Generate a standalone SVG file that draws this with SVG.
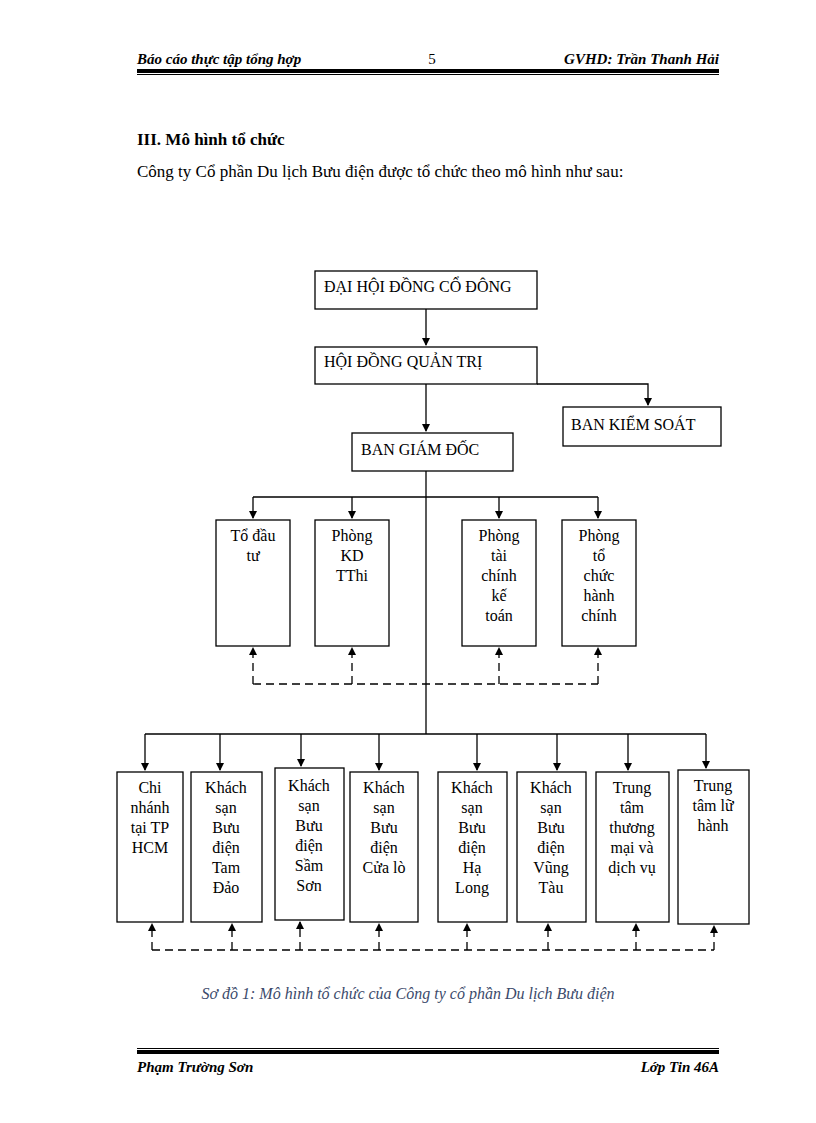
<svg xmlns="http://www.w3.org/2000/svg" width="816" height="1123" viewBox="0 0 816 1123">
<style>
text{font-family:"Liberation Serif",serif;fill:#000}
.hd{font-size:15px;font-style:italic;font-weight:bold}
.b{fill:#fff;stroke:#000;stroke-width:1.3}
.t{font-size:16px;text-anchor:middle}
.n{font-size:16px}
.l{fill:none;stroke:#000;stroke-width:1.3}
.d{fill:none;stroke:#000;stroke-width:1.3;stroke-dasharray:8,5}
</style>
<defs><marker id="a" markerWidth="8" markerHeight="8" refX="7" refY="4" orient="auto" markerUnits="userSpaceOnUse"><path d="M0,0L8,4L0,8z"/></marker></defs>
<rect width="816" height="1123" fill="#fff"/>
<text class="hd" x="137" y="64">Báo cáo thực tập tổng hợp</text>
<text x="432" y="64" style="font-size:15px;text-anchor:middle">5</text>
<text class="hd" x="719" y="64" text-anchor="end">GVHD: Trần Thanh Hải</text>
<rect x="137" y="69" width="582" height="4" fill="#000"/><rect x="137" y="74" width="582" height="1" fill="#000"/>
<text x="137" y="145" style="font-size:17px;font-weight:bold">III.  Mô hình tổ chức</text>
<text x="137" y="177" style="font-size:17px">Công ty Cổ phần Du lịch Bưu điện được tổ chức theo mô hình như sau:</text>
<g id="connectors">
<path class="l" d="M426,309V345" marker-end="url(#a)"/>
<path class="l" d="M426,384V431" marker-end="url(#a)"/>
<path class="l" d="M537,384H648V405" marker-end="url(#a)"/>
<path class="l" d="M426,471V734"/>
<path class="l" d="M253,497H598"/>
<path class="l" d="M253,497V518" marker-end="url(#a)"/><path class="l" d="M352,497V518" marker-end="url(#a)"/><path class="l" d="M499,497V518" marker-end="url(#a)"/><path class="l" d="M598,497V518" marker-end="url(#a)"/>
<path class="l" d="M145,734H706"/>
<path class="l" d="M145,734V770" marker-end="url(#a)"/><path class="l" d="M220,734V770" marker-end="url(#a)"/><path class="l" d="M301,734V766" marker-end="url(#a)"/><path class="l" d="M379,734V770" marker-end="url(#a)"/><path class="l" d="M477,734V770" marker-end="url(#a)"/><path class="l" d="M557,734V770" marker-end="url(#a)"/><path class="l" d="M628,734V770" marker-end="url(#a)"/><path class="l" d="M706,734V768" marker-end="url(#a)"/>
<path class="d" d="M253,684H598"/>
<path class="d" d="M253,684V648" marker-end="url(#a)"/><path class="d" d="M352,684V648" marker-end="url(#a)"/><path class="d" d="M499,684V648" marker-end="url(#a)"/><path class="d" d="M598,684V648" marker-end="url(#a)"/>
<path class="d" d="M152,950H714"/>
<path class="d" d="M152,950V924" marker-end="url(#a)"/><path class="d" d="M232,950V924" marker-end="url(#a)"/><path class="d" d="M300,950V922" marker-end="url(#a)"/><path class="d" d="M379,950V924" marker-end="url(#a)"/><path class="d" d="M467,950V924" marker-end="url(#a)"/><path class="d" d="M548,950V924" marker-end="url(#a)"/><path class="d" d="M636,950V924" marker-end="url(#a)"/><path class="d" d="M714,950V926" marker-end="url(#a)"/>
</g>
<g id="dhcd"><rect class="b" x="315" y="271" width="222" height="38"/><text class="n" x="324" y="292">ĐẠI HỘI ĐỒNG CỔ ĐÔNG</text></g>
<g id="hdqt"><rect class="b" x="315" y="347" width="222" height="37"/><text class="n" x="324" y="367">HỘI ĐỒNG QUẢN TRỊ</text></g>
<g id="bks"><rect class="b" x="563" y="407" width="158" height="39"/><text class="n" x="571" y="430">BAN KIỂM SOÁT</text></g>
<g id="bgd"><rect class="b" x="352" y="433" width="161" height="38"/><text class="n" x="361" y="455">BAN GIÁM ĐỐC</text></g>
<g id="todautu"><rect class="b" x="216" y="520" width="74" height="126"/><text class="t" x="253" y="541">Tổ đầu<tspan x="253" dy="20">tư</tspan></text></g>
<g id="kd"><rect class="b" x="315" y="520" width="74" height="126"/><text class="t" x="352" y="541">Phòng<tspan x="352" dy="20">KD</tspan><tspan x="352" dy="20">TThi</tspan></text></g>
<g id="tckt"><rect class="b" x="462" y="520" width="74" height="126"/><text class="t" x="499" y="541">Phòng<tspan x="499" dy="20">tài</tspan><tspan x="499" dy="20">chính</tspan><tspan x="499" dy="20">kế</tspan><tspan x="499" dy="20">toán</tspan></text></g>
<g id="tchc"><rect class="b" x="562" y="520" width="74" height="126"/><text class="t" x="599" y="541">Phòng<tspan x="599" dy="20">tổ</tspan><tspan x="599" dy="20">chức</tspan><tspan x="599" dy="20">hành</tspan><tspan x="599" dy="20">chính</tspan></text></g>
<g id="b1"><rect class="b" x="117" y="772" width="66" height="150"/><text class="t" x="150" y="793">Chi<tspan x="150" dy="20">nhánh</tspan><tspan x="150" dy="20">tại TP</tspan><tspan x="150" dy="20">HCM</tspan></text></g>
<g id="b2"><rect class="b" x="191" y="772" width="71" height="150"/><text class="t" x="226" y="793">Khách<tspan x="226" dy="20">sạn</tspan><tspan x="226" dy="20">Bưu</tspan><tspan x="226" dy="20">điện</tspan><tspan x="226" dy="20">Tam</tspan><tspan x="226" dy="20">Đảo</tspan></text></g>
<g id="b3"><rect class="b" x="275" y="768" width="69" height="152"/><text class="t" x="309" y="791">Khách<tspan x="309" dy="20">sạn</tspan><tspan x="309" dy="20">Bưu</tspan><tspan x="309" dy="20">điện</tspan><tspan x="309" dy="20">Sầm</tspan><tspan x="309" dy="20">Sơn</tspan></text></g>
<g id="b4"><rect class="b" x="350" y="772" width="68" height="150"/><text class="t" x="384" y="793">Khách<tspan x="384" dy="20">sạn</tspan><tspan x="384" dy="20">Bưu</tspan><tspan x="384" dy="20">điện</tspan><tspan x="384" dy="20">Cửa lò</tspan></text></g>
<g id="b5"><rect class="b" x="438" y="772" width="69" height="150"/><text class="t" x="472" y="793">Khách<tspan x="472" dy="20">sạn</tspan><tspan x="472" dy="20">Bưu</tspan><tspan x="472" dy="20">điện</tspan><tspan x="472" dy="20">Hạ</tspan><tspan x="472" dy="20">Long</tspan></text></g>
<g id="b6"><rect class="b" x="517" y="772" width="69" height="150"/><text class="t" x="551" y="793">Khách<tspan x="551" dy="20">sạn</tspan><tspan x="551" dy="20">Bưu</tspan><tspan x="551" dy="20">điện</tspan><tspan x="551" dy="20">Vũng</tspan><tspan x="551" dy="20">Tàu</tspan></text></g>
<g id="b7"><rect class="b" x="596" y="772" width="73" height="150"/><text class="t" x="632" y="793">Trung<tspan x="632" dy="20">tâm</tspan><tspan x="632" dy="20">thương</tspan><tspan x="632" dy="20">mại và</tspan><tspan x="632" dy="20">dịch vụ</tspan></text></g>
<g id="b8"><rect class="b" x="678" y="770" width="71" height="154"/><text class="t" x="713" y="791">Trung<tspan x="713" dy="20">tâm lữ</tspan><tspan x="713" dy="20">hành</tspan></text></g>
<text x="408" y="999" style="font-size:16px;font-style:italic;text-anchor:middle;fill:#3b4a6b">Sơ đồ 1: Mô hình tổ chức của Công ty cổ phần Du lịch Bưu điện</text>
<rect x="137" y="1048" width="582" height="1" fill="#000"/><rect x="137" y="1050" width="582" height="4" fill="#000"/>
<text class="hd" x="137" y="1072">Phạm Trường Sơn</text>
<text class="hd" x="719" y="1072" text-anchor="end">Lớp Tin 46A</text>
</svg>
